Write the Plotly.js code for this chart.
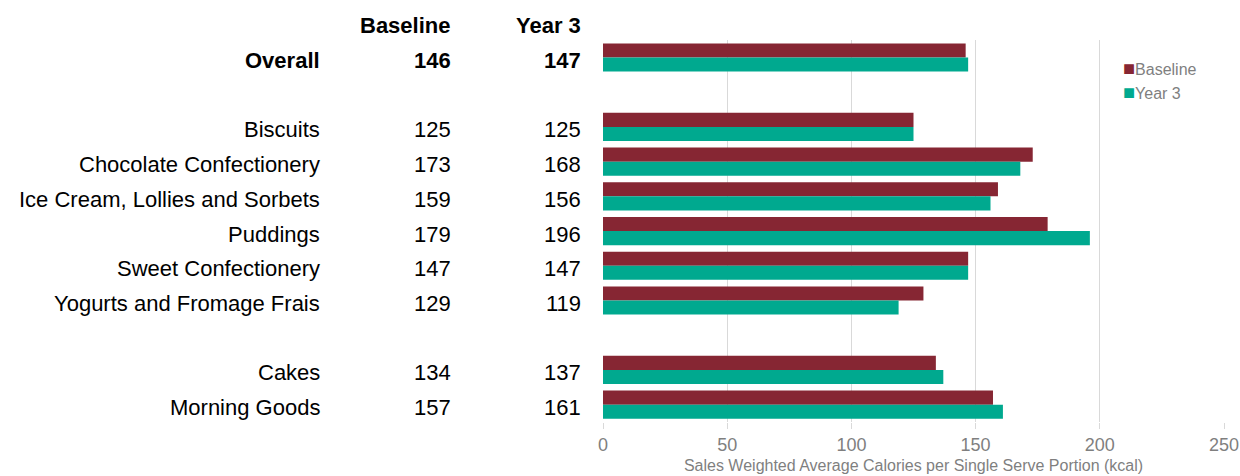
<!DOCTYPE html>
<html>
<head>
<meta charset="utf-8">
<script src="https://cdn.plot.ly/plotly-3.0.1.min.js"></script>
<style>html,body{margin:0;padding:0;background:#fff;}#chart{width:1240px;height:476px;}</style>
</head>
<body>
<div id="chart"></div>
<script>
// Data
const categories = ["Overall", " ", "Biscuits", "Chocolate Confectionery", "Ice Cream, Lollies and Sorbets", "Puddings", "Sweet Confectionery", "Yogurts and Fromage Frais", "  ", "Cakes", "Morning Goods"];
const baselineValues = [146, null, 125, 173, 159, 179, 147, 129, null, 134, 157];
const year3Values = [147, null, 125, 168, 156, 196, 147, 119, null, 137, 161];
const seriesNames = ["Baseline", "Year 3"];
const xTicks = [0, 50, 100, 150, 200, 250];
const xTitle = "Sales Weighted Average Calories per Single Serve Portion (kcal)";

const colBaseline = "#862633";
const colYear3 = "#00A98F";
const font = "'Liberation Sans', Arial, sans-serif";
const grey = "#7f7f7f";

const traces = [
  {type: "bar", orientation: "h", name: seriesNames[0], y: categories, x: baselineValues, marker: {color: colBaseline}, hoverinfo: "x+y"},
  {type: "bar", orientation: "h", name: seriesNames[1], y: categories, x: year3Values, marker: {color: colYear3}, hoverinfo: "x+y"}
];

// table annotations
const annotations = [];
const px = p => (p - 603) / 621;
const xLabel = px(322), xBase = px(453), xY3 = px(583);
const tf = {family: font, size: 22, color: "#000"};
categories.forEach((c, i) => {
  if (c.trim() === "") return;
  const bold = c === "Overall";
  const wrap = s => bold ? "<b>" + s + "</b>" : s;
  [[xLabel, c], [xBase, String(baselineValues[i])], [xY3, String(year3Values[i])]].forEach(([x, t]) => {
    annotations.push({xref: "paper", yref: "y", x: x, y: c, text: wrap(t), showarrow: false, xanchor: "right", yanchor: "middle", yshift: -3, font: tf});
  });
});
// headers
const headerY = 1 + (40 - 25) / 382;
[[xBase, seriesNames[0]], [xY3, seriesNames[1]]].forEach(([x, t]) => {
  annotations.push({xref: "paper", yref: "paper", x: x, y: headerY, text: "<b>" + t + "</b>", showarrow: false, xanchor: "right", yanchor: "middle", font: tf});
});
// legend (as text with coloured squares)
[[seriesNames[0], colBaseline, 68], [seriesNames[1], colYear3, 92]].forEach(([t, col, yy]) => {
  annotations.push({xref: "paper", yref: "paper", x: px(1121), y: 1 - (yy - 40) / 382, text: "<span style='color:" + col + ";font-size:20px'>■</span>" + t, showarrow: false, xanchor: "left", yanchor: "middle", font: {family: font, size: 16, color: grey}});
});

const layout = {
  width: 1240, height: 476,
  margin: {l: 603, r: 16, t: 40, b: 54, pad: 0},
  paper_bgcolor: "#fff", plot_bgcolor: "#fff",
  barmode: "group", bargap: 0.19, bargroupgap: 0,
  font: {family: font},
  showlegend: false,
  xaxis: {
    range: [0, 250], tickvals: xTicks, ticktext: xTicks.map(String),
    showgrid: true, gridcolor: "#d9d9d9", gridwidth: 1,
    zeroline: false, showline: false,
    ticks: "outside", ticklen: 6, tickcolor: "#d9d9d9",
    tickfont: {family: font, size: 18, color: grey},
    title: {text: xTitle, font: {family: font, size: 16, color: grey}, standoff: 6},
    fixedrange: true
  },
  yaxis: {
    type: "category", categoryorder: "array", categoryarray: categories,
    autorange: "reversed", showticklabels: false, showgrid: false, zeroline: false, showline: false, ticks: "",
    fixedrange: true
  },
  annotations: annotations
};

Plotly.newPlot("chart", traces, layout, {displayModeBar: false, staticPlot: true});
</script>
</body>
</html>
